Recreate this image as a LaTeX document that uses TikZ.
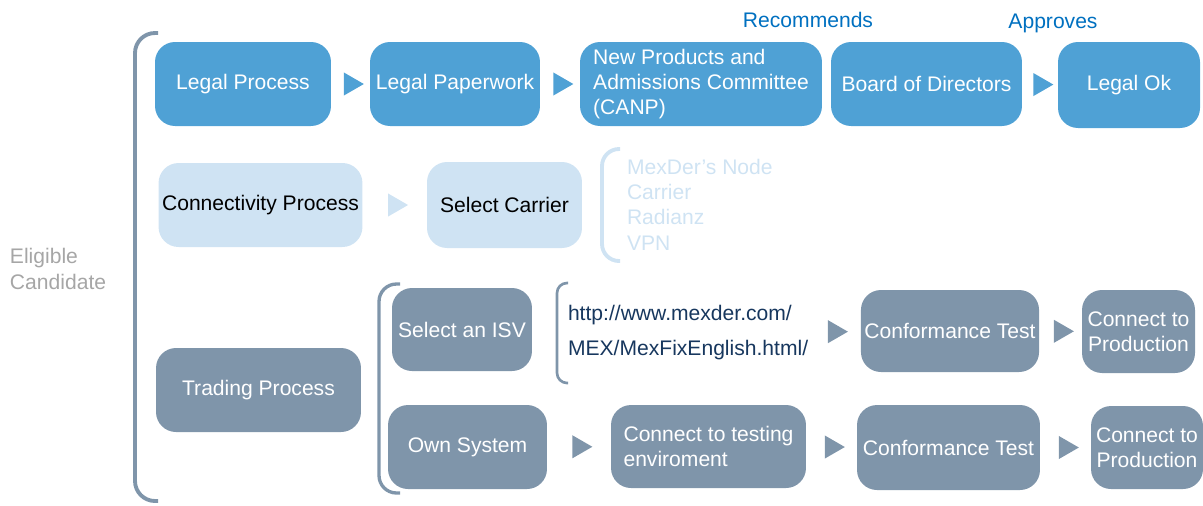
\documentclass[tikz,border=0pt]{standalone}
\usepackage{fontspec}
\setmainfont{Liberation Sans}
\usepackage{tikz}
\usetikzlibrary{positioning,arrows.meta,calc,shapes.geometric}

\definecolor{legalblue}{HTML}{4FA1D5}
\definecolor{connblue}{HTML}{CFE3F3}
\definecolor{tradegray}{HTML}{7F95AA}
\definecolor{notegray}{HTML}{A6A6A6}
\definecolor{labelblue}{HTML}{0070C0}
\definecolor{urlnavy}{HTML}{17375E}

\begin{document}
\begin{tikzpicture}[
            x=0.02cm, y=-0.02cm,
            outer sep=0pt,
            font=\fontsize{12}{14.4}\selectfont,
            % Step box: rounded, no border
            box/.style={
                rounded corners=0.4cm,
                minimum height=1.68cm,
                inner sep=2pt,
                align=center
            },
            legal/.style={box, fill=legalblue, text=white},
            connect/.style={box, fill=connblue, text=black},
            trade/.style={box, fill=tradegray, text=white},
            % Triangle between two boxes
            tri/.style={
                isosceles triangle,
                isosceles triangle apex angle=60,
                fill=#1,
                inner sep=0pt,
                minimum size=0.4cm
            },
            % Bracket on the left of a group
            brace/.style={line width=2.2pt, rounded corners=0.4cm}
        ]
            \useasboundingbox (0,0) rectangle (1203,505);

            % --- LEFT: ELIGIBLE CANDIDATE ---
            \node[text=notegray, align=left, anchor=west, inner sep=0pt] (eligible) at (10,269) {Eligible\\Candidate};
            \draw[brace, draw=tradegray] (158,33) -- (135,33) -- (135,501) -- (158,501);

            % --- ROW 1: LEGAL PROCESS ---
            \node[legal, minimum width=3.52cm] (legalproc) at (243,84) {Legal Process};
            \node[legal, minimum width=3.40cm] (paperwork) at (455,84) {Legal Paperwork};
            \node[legal, minimum width=4.84cm, align=left] (canp) at (701,84) {New Products and\\Admissions Committee\\(CANP)};
            \node[legal, minimum width=3.82cm] (board) at (926.5,84) {Board of Directors};
            \node[legal, minimum width=2.84cm, minimum height=1.72cm] (legalok) at (1129,85) {Legal Ok};

            \node[text=labelblue, inner sep=0pt] (recommends) at (808,20) {Recommends};
            \node[text=labelblue, inner sep=0pt] (approves) at (1053,23) {Approves};

            \path (legalproc) -- node[tri=legalblue] {} (paperwork);
            \path (paperwork) -- node[tri=legalblue] {} (canp);
            \path (board) -- node[tri=legalblue] {} (legalok);

            % --- ROW 2: CONNECTIVITY PROCESS ---
            \node[connect, minimum width=4.02cm] (connproc) at (260.5,205) {Connectivity Process};
            \node[connect, minimum width=3.10cm, minimum height=1.72cm] (carrier) at (504.5,205) {Select Carrier};
            \path (connproc) -- node[tri=connblue] {} (carrier);

            \draw[brace, draw=connblue, rounded corners=0.34cm] (620,149) -- (602,149) -- (602,261) -- (620,261);
            \node[text=connblue, align=left, anchor=west, inner sep=0pt] (carrierlist) at (627,204.5) {MexDer’s Node\\Carrier\\Radianz\\VPN};

            % --- ROW 3: TRADING PROCESS ---
            \node[trade, minimum width=4.10cm] (tradeproc) at (258.5,390) {Trading Process};
            \draw[brace, draw=tradegray, line width=1.9pt, rounded corners=0.35cm] (400,284) -- (379,284) -- (379,493) -- (400,493);

            % Select an ISV
            \node[trade, minimum width=2.80cm, minimum height=1.66cm] (isv) at (462,329.5) {Select an ISV};
            \draw[brace, draw=tradegray, line width=1.5pt, rounded corners=0.2cm] (568,283) -- (557,283) -- (557,383) -- (568,383);
            \node[text=urlnavy, align=left, anchor=west, inner sep=0pt] (isvurl) at (568,332.5) {http://www.mexder.com/\\[5.4pt]MEX/MexFixEnglish.html/};
            \node[trade, minimum width=3.56cm, minimum height=1.64cm] (conftest1) at (950,331) {Conformance Test};
            \node[trade, minimum width=2.26cm, minimum height=1.66cm] (prod1) at (1138.5,331.5) {Connect to\\Production};
            \path (isvurl) -- node[tri=tradegray] {} (conftest1);
            \path (conftest1) -- node[tri=tradegray] {} (prod1);

            % Own system
            \node[trade, minimum width=3.18cm] (ownsys) at (467.5,447) {Own System};
            \node[trade, minimum width=3.90cm, minimum height=1.66cm, align=left] (testenv) at (708.5,446.5) {Connect to testing\\enviroment};
            \node[trade, minimum width=3.66cm, minimum height=1.70cm] (conftest2) at (948.5,447.5) {Conformance Test};
            \node[trade, minimum width=2.24cm, minimum height=1.66cm] (prod2) at (1147,447.5) {Connect to\\Production};
            \path (ownsys) -- node[tri=tradegray] {} (testenv);
            \path (testenv) -- node[tri=tradegray] {} (conftest2);
            \path (conftest2) -- node[tri=tradegray] {} (prod2);

        \end{tikzpicture}
\end{document}
